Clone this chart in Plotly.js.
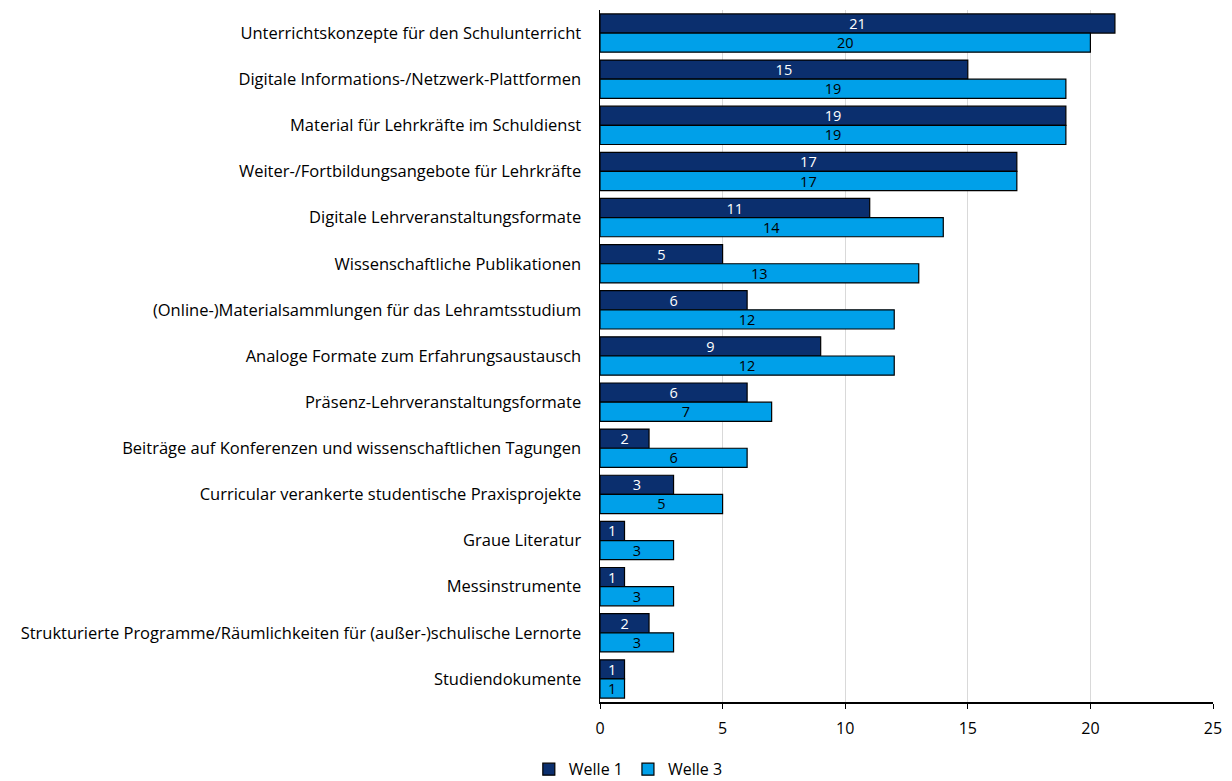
<!DOCTYPE html>
<html><head><meta charset="utf-8">
<script src="https://cdn.plot.ly/plotly-3.0.1.min.js"></script>
<style>body{margin:0;background:#fff}#c{width:1232px;height:781px}</style>
</head><body><div id="c"></div>
<script>
const categories = [
  "Unterrichtskonzepte für den Schulunterricht",
  "Digitale Informations-/Netzwerk-Plattformen",
  "Material für Lehrkräfte im Schuldienst",
  "Weiter-/Fortbildungsangebote für Lehrkräfte",
  "Digitale Lehrveranstaltungsformate",
  "Wissenschaftliche Publikationen",
  "(Online-)Materialsammlungen für das Lehramtsstudium",
  "Analoge Formate zum Erfahrungsaustausch",
  "Präsenz-Lehrveranstaltungsformate",
  "Beiträge auf Konferenzen und wissenschaftlichen Tagungen",
  "Curricular verankerte studentische Praxisprojekte",
  "Graue Literatur",
  "Messinstrumente",
  "Strukturierte Programme/Räumlichkeiten für (außer-)schulische Lernorte",
  "Studiendokumente"
];
const welle1 = [21, 15, 19, 17, 11, 5, 6, 9, 6, 2, 3, 1, 1, 2, 1];
const welle3 = [20, 19, 19, 17, 14, 13, 12, 12, 7, 6, 5, 3, 3, 3, 1];
const seriesNames = ["Welle 1", "Welle 3"];
const xTicks = [0, 5, 10, 15, 20, 25];

const FONT = "'Open Sans', 'Noto Sans', sans-serif";
const traces = [
  {type:'bar', orientation:'h', name:seriesNames[0], y:categories, x:welle1,
   text:welle1.map(String), textposition:'inside', insidetextanchor:'middle', textangle:0,
   textfont:{color:'#ffffff', size:14.5, family:FONT}, constraintext:'none',
   marker:{color:'#0B2F6E', line:{color:'#000000', width:1.2}}, hoverinfo:'x+y'},
  {type:'bar', orientation:'h', name:seriesNames[1], y:categories, x:welle3,
   text:welle3.map(String), textposition:'inside', insidetextanchor:'middle', textangle:0,
   textfont:{color:'#000000', size:14.5, family:FONT}, constraintext:'none',
   marker:{color:'#00A0E9', line:{color:'#000000', width:1.2}}, hoverinfo:'x+y'}
];
const layout = {
  width:1232, height:781,
  margin:{l:600, r:19, t:10, b:79},
  paper_bgcolor:'#ffffff', plot_bgcolor:'#ffffff',
  font:{family:FONT, size:16, color:'#000000'},
  barmode:'group', bargap:0.17, bargroupgap:0,
  uniformtext:{mode:false},
  xaxis:{range:[0,25], tickvals:xTicks, ticktext:xTicks.map(String),
    showgrid:true, gridcolor:'#D9D9D9', gridwidth:1, zeroline:false,
    showline:true, linecolor:'#000000', linewidth:1.5,
    ticks:'outside', ticklen:5, tickcolor:'#000000', tickfont:{size:16}, ticklabelstandoff:6},
  yaxis:{autorange:'reversed', showline:true, linecolor:'#000000', linewidth:1.5,
    ticks:'', ticklabelstandoff:14, tickfont:{size:16.5}, showgrid:false, automargin:false},
  legend:{orientation:'h', xref:'container', x:0.51, xanchor:'center', yref:'container', y:0.015, yanchor:'middle',
    font:{size:16}, traceorder:'normal', itemwidth:20},
  showlegend:true
};
Plotly.newPlot('c', traces, layout, {displayModeBar:false, staticPlot:true});
</script></body></html>
